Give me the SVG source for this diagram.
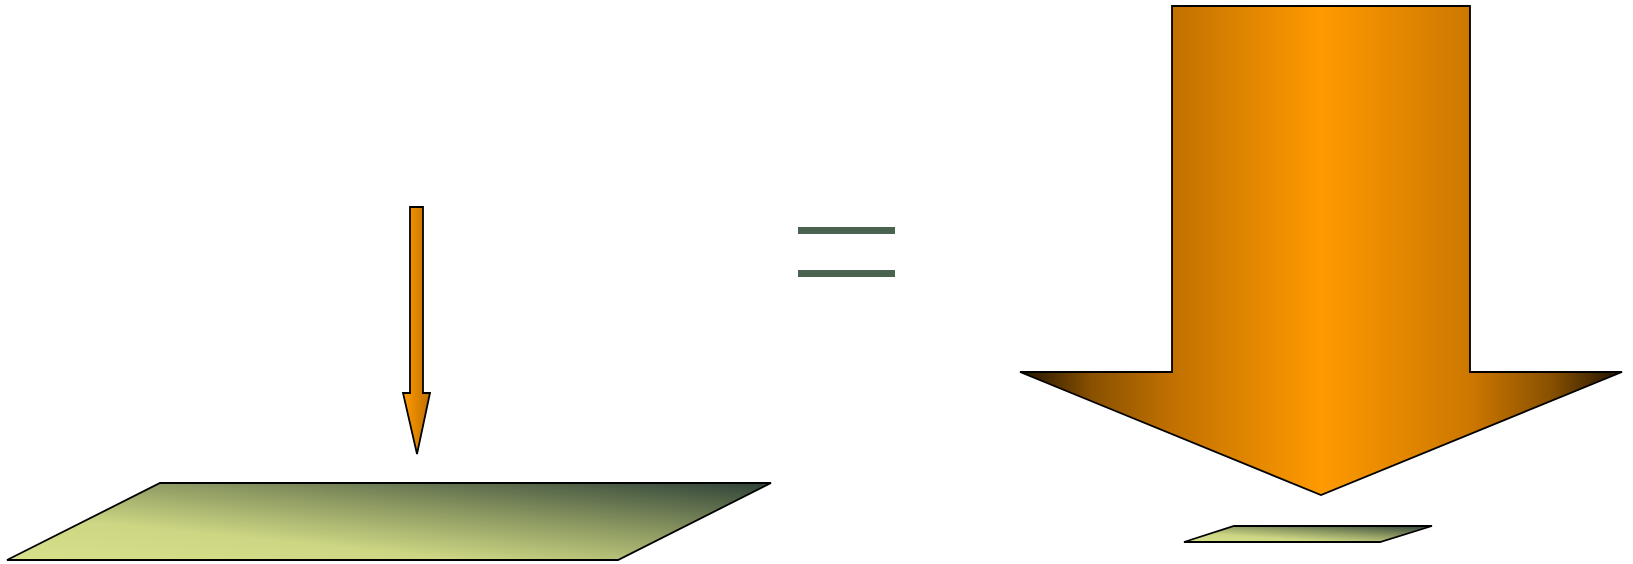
<svg xmlns="http://www.w3.org/2000/svg" width="1633" height="564" viewBox="0 0 1633 564">
<defs>
<linearGradient id="gSmall" x1="0" y1="0" x2="1" y2="0">
<stop offset="0" stop-color="#ff9c00"/>
<stop offset="1" stop-color="#c06e00"/>
</linearGradient>
<linearGradient id="gBig" x1="0" y1="0" x2="1" y2="0">
<stop offset="0" stop-color="#1e1200"/>
<stop offset="0.12" stop-color="#8a5100"/>
<stop offset="0.25" stop-color="#c07000"/>
<stop offset="0.5" stop-color="#ff9a00"/>
<stop offset="0.75" stop-color="#cc7700"/>
<stop offset="0.88" stop-color="#8a5100"/>
<stop offset="1" stop-color="#1e1200"/>
</linearGradient>
<linearGradient id="gPlane" x1="0" y1="1" x2="1" y2="0">
<stop offset="0" stop-color="#d8e08a"/>
<stop offset="0.3" stop-color="#cdd683"/>
<stop offset="0.6" stop-color="#8d9a62"/>
<stop offset="1" stop-color="#2f4238"/>
</linearGradient>
<style>
.outline{stroke:#000;stroke-width:1.8;stroke-linejoin:miter}
.bar{fill:#4a6250}
</style>
</defs>
<g id="plane-large">
<polygon class="outline" fill="url(#gPlane)" points="7,560 160,483 771,483 618,560"/>
</g>
<g id="arrow-small">
<polygon class="outline" fill="url(#gSmall)" points="410,207 423,207 423,393 430,393 417,454 403,393 410,393"/>
</g>
<g id="equals">
<rect class="bar" x="798" y="227" width="97" height="7"/>
<rect class="bar" x="798" y="270" width="97" height="7"/>
</g>
<g id="arrow-big">
<polygon class="outline" fill="url(#gBig)" points="1172,6 1470,6 1470,372 1622,372 1321,495 1020,372 1172,372"/>
</g>
<g id="plane-small">
<polygon class="outline" fill="url(#gPlane)" points="1184,542 1234,526 1432,526 1380,542"/>
</g>
</svg>
